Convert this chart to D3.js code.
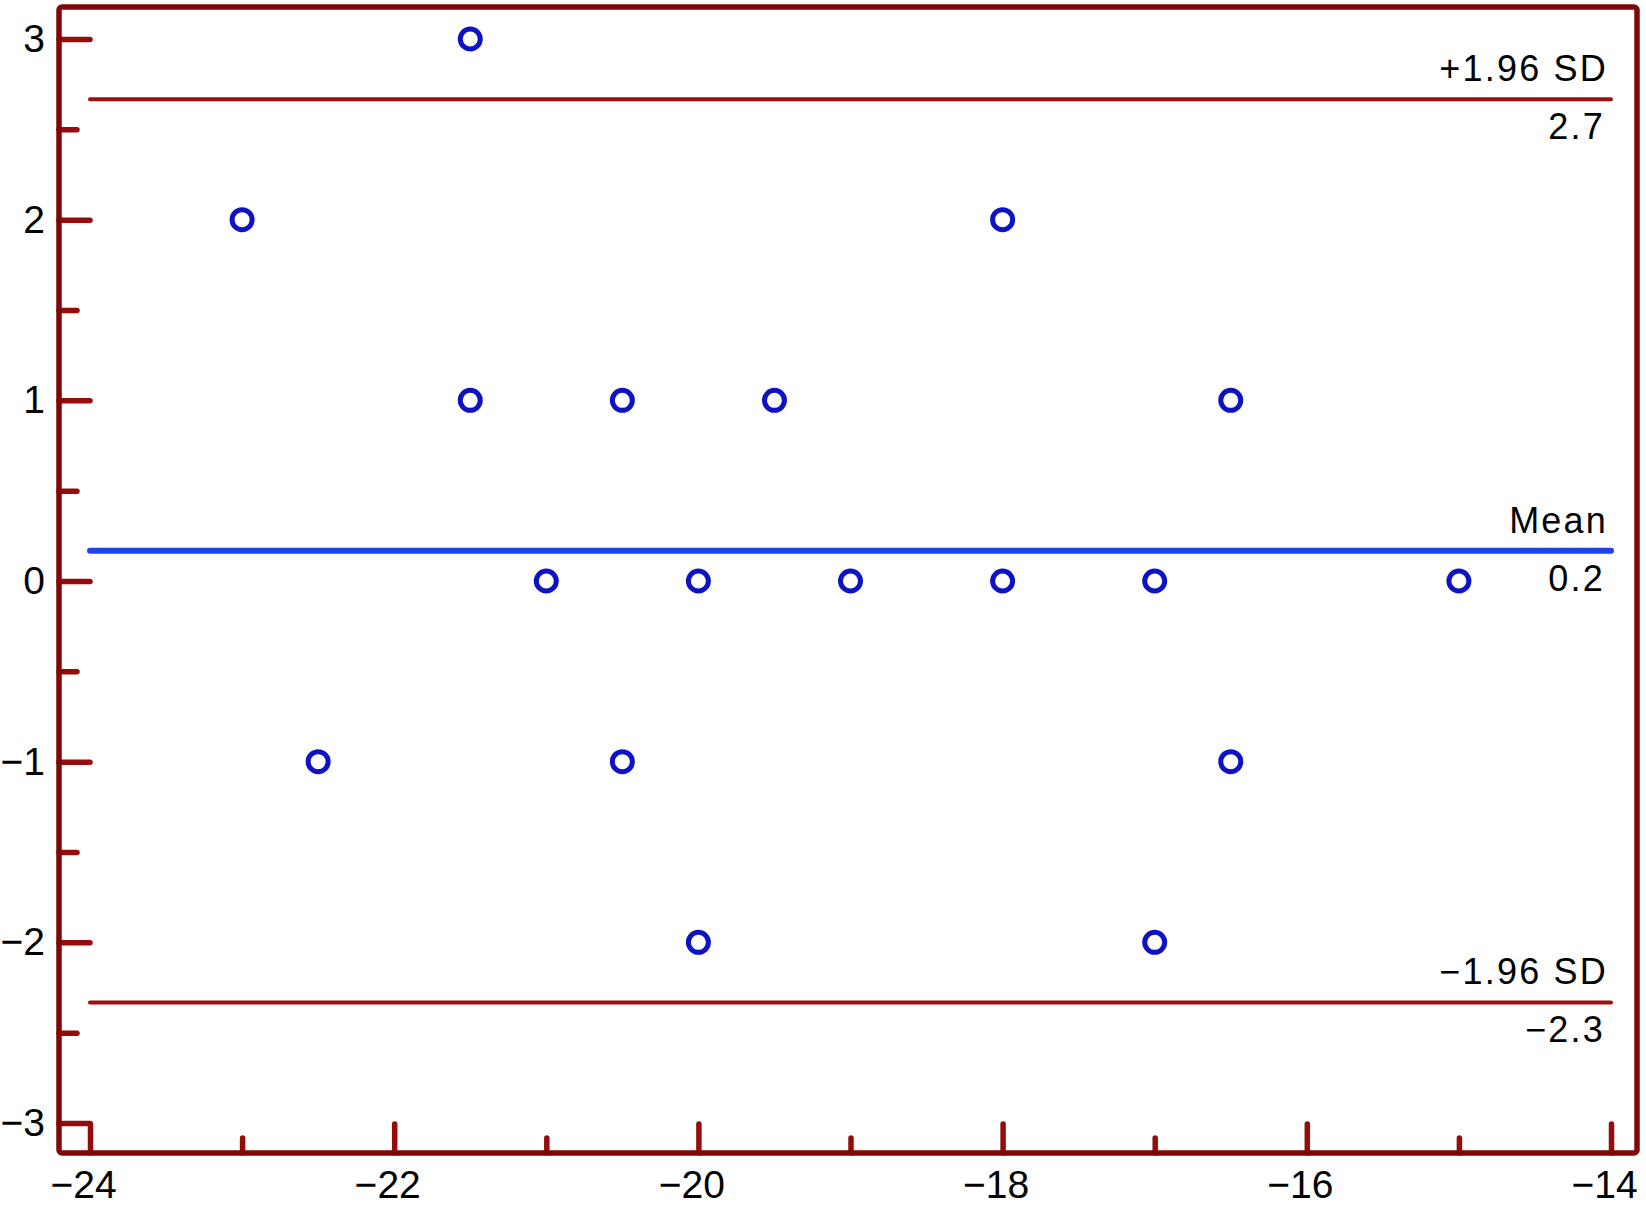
<!DOCTYPE html>
<html lang="en">
<head>
    <meta charset="UTF-8">
    <title>Bland-Altman Plot</title>
    <script src="https://d3js.org/d3.v7.min.js"></script>
    <style>
        body { margin: 0; background: #fff; }
        .axis text {
            font-family: "Liberation Sans", Arial, sans-serif;
            font-size: 39px;
            fill: #000;
        }
        .axis line {
            stroke: #960c0c;
            stroke-width: 5.5px;
            stroke-linecap: round;
        }
        .note {
            font-family: "Liberation Sans", Arial, sans-serif;
            font-size: 36px;
            letter-spacing: 2.2px;
            fill: #000;
        }
    </style>
</head>
<body>
    <div id="chart"></div>
    <script>
        // differences vs means
        var xMeans = [-23, -22.5, -21.5, -21.5, -21, -20.5, -20.5, -20, -20, -19.5, -19, -18, -18, -17, -17, -16.5, -16.5, -15];
        var yDiffs = [2, -1, 3, 1, 0, 1, -1, 0, -2, 1, 0, 2, 0, 0, -2, 1, -1, 0];

        // reference lines: mean and limits of agreement
        var refNames  = ["+1.96 SD", "Mean", "\u22121.96 SD"];
        var refValues = [2.667, 0.167, -2.333];
        var refLabels = ["2.7", "0.2", "\u22122.3"];

        var xMajor = [-24, -22, -20, -18, -16, -14];
        var xMinor = [-23, -21, -19, -17, -15];
        var yMajor = [-3, -2, -1, 0, 1, 2, 3];
        var yMinor = [-2.5, -1.5, -0.5, 0.5, 1.5, 2.5];

        var W = 1646, H = 1208;
        var frame = { left: 59, right: 1637, top: 7, bottom: 1153 };

        var x = d3.scaleLinear().domain([-24, -14]).range([90, 1611]);
        var y = d3.scaleLinear().domain([-3, 3]).range([1123, 39]);

        var svg = d3.select("#chart")
            .append("svg")
            .attr("width", W)
            .attr("height", H);

        var minus = function (d) { return String(d).replace("-", "\u2212"); };

        // y axis (ticks pointing inward)
        svg.append("g")
            .attr("class", "axis")
            .attr("transform", "translate(" + frame.left + ",0)")
            .call(d3.axisLeft(y).tickValues(yMajor).tickSize(-31).tickPadding(14).tickFormat(minus))
            .call(function (g) { g.select(".domain").remove(); });

        svg.append("g")
            .attr("class", "axis")
            .attr("transform", "translate(" + frame.left + ",0)")
            .call(d3.axisLeft(y).tickValues(yMinor).tickSize(-18).tickFormat(""))
            .call(function (g) { g.select(".domain").remove(); });

        // x axis
        svg.append("g")
            .attr("class", "axis")
            .attr("transform", "translate(0," + frame.bottom + ")")
            .call(d3.axisBottom(x).tickValues(xMajor).tickSize(-29).tickPadding(17).tickFormat(minus))
            .call(function (g) {
                g.select(".domain").remove();
                g.selectAll("text").attr("dx", -7);
            });

        svg.append("g")
            .attr("class", "axis")
            .attr("transform", "translate(0," + frame.bottom + ")")
            .call(d3.axisBottom(x).tickValues(xMinor).tickSize(-15).tickFormat(""))
            .call(function (g) { g.select(".domain").remove(); });

        svg.selectAll(".axis text").attr("fill", "#000");

        // frame
        svg.append("rect")
            .attr("x", frame.left)
            .attr("y", frame.top)
            .attr("width", frame.right - frame.left)
            .attr("height", frame.bottom - frame.top)
            .attr("rx", 3)
            .style("fill", "none")
            .style("stroke", "#7e0808")
            .style("stroke-width", 5.5);

        // reference lines
        var refs = refNames.map(function (n, i) {
            return { name: n, value: refValues[i], label: refLabels[i], mean: n === "Mean" };
        });

        svg.selectAll(".ref")
            .data(refs)
            .enter()
            .append("line")
            .attr("class", "ref")
            .attr("x1", x(-24))
            .attr("x2", x(-14))
            .attr("y1", function (d) { return y(d.value); })
            .attr("y2", function (d) { return y(d.value); })
            .style("stroke", function (d) { return d.mean ? "#2142e6" : "#9c1010"; })
            .style("stroke-width", function (d) { return d.mean ? 6 : 4; })
            .style("stroke-dasharray", function (d) { return d.mean ? null : "13 1.5"; })
            .style("stroke-linecap", "round");

        svg.selectAll(".refName")
            .data(refs)
            .enter()
            .append("text")
            .attr("class", "note")
            .attr("x", 1608)
            .attr("y", function (d) { return y(d.value) - 18; })
            .attr("text-anchor", "end")
            .text(function (d) { return d.name; });

        svg.selectAll(".refVal")
            .data(refs)
            .enter()
            .append("text")
            .attr("class", "note")
            .attr("x", 1605)
            .attr("y", function (d) { return y(d.value) + 40; })
            .attr("text-anchor", "end")
            .text(function (d) { return d.label; });

        // points
        svg.selectAll(".pt")
            .data(xMeans)
            .enter()
            .append("circle")
            .attr("class", "pt")
            .attr("cx", function (d) { return x(d); })
            .attr("cy", function (d, i) { return y(yDiffs[i]); })
            .attr("r", 10)
            .style("fill", "none")
            .style("stroke", "#0d12c4")
            .style("stroke-width", 5);
    </script>
</body>
</html>
